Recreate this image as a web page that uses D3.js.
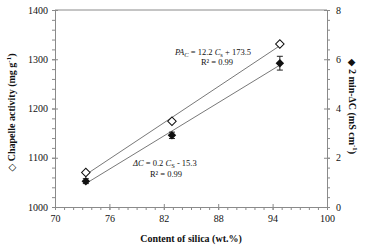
<!DOCTYPE html>
<html>
<head>
<meta charset="utf-8">
<script src="https://cdn.jsdelivr.net/npm/d3@7"></script>
<style>
  body { margin: 0; background: #fff; }
  svg text { font-family: "Liberation Serif", "DejaVu Serif", serif; fill: #111; }
</style>
</head>
<body>
<svg id="chart" width="366" height="246"></svg>
<script>
// data
const silica = [73.4, 82.9, 94.8];
const chapelle = [1070, 1174, 1331];
const deltaC = [1.05, 2.91, 5.84];
const deltaCErr = [0.1, 0.13, 0.28];
const xTicks = [70, 76, 82, 88, 94, 100];
const yLeftTicks = [1000, 1100, 1200, 1300, 1400];
const yRightTicks = [0, 2, 4, 6, 8];

const svg = d3.select("#chart");
const width = +svg.attr("width");
const height = +svg.attr("height");
const margin = { top: 10, right: 39, bottom: 39, left: 55 };
const w = width - margin.left - margin.right;
const h = height - margin.top - margin.bottom;
const axisColor = "#8a8a8a";
const fmt = d3.format("d");

const g = svg.append("g").attr("transform", `translate(${margin.left},${margin.top})`);

const x = d3.scaleLinear().domain([70, 100]).range([0, w]);
const yL = d3.scaleLinear().domain([1000, 1400]).range([h, 0]);
const yR = d3.scaleLinear().domain([0, 8]).range([h, 0]);

// top border
g.append("line").attr("x1", 0).attr("x2", w).attr("y1", 0).attr("y2", 0)
    .attr("stroke", axisColor).attr("stroke-width", 1);

// minor ticks
g.append("g").attr("transform", `translate(0,${h})`)
    .call(d3.axisBottom(x).tickValues(d3.range(70, 101, 1)).tickSize(3).tickFormat(""))
    .call(a => a.select(".domain").remove());
g.append("g")
    .call(d3.axisLeft(yL).tickValues(d3.range(1000, 1401, 20)).tickSize(3).tickFormat(""))
    .call(a => a.select(".domain").remove());
g.append("g").attr("transform", `translate(${w},0)`)
    .call(d3.axisRight(yR).tickValues(d3.range(0, 8.01, 0.4)).tickSize(3).tickFormat(""))
    .call(a => a.select(".domain").remove());

// major axes
const xAxis = g.append("g").attr("transform", `translate(0,${h})`)
    .call(d3.axisBottom(x).tickValues(xTicks).tickFormat(fmt).tickSize(3).tickSizeOuter(0).tickPadding(5));
xAxis.selectAll(".tick line").attr("y1", -3);

const leftAxis = g.append("g")
    .call(d3.axisLeft(yL).tickValues(yLeftTicks).tickFormat(fmt).tickSize(3).tickSizeOuter(0).tickPadding(4));
leftAxis.selectAll(".tick line").attr("x1", 3);

const rightAxis = g.append("g").attr("transform", `translate(${w},0)`)
    .call(d3.axisRight(yR).tickValues(yRightTicks).tickFormat(fmt).tickSize(3).tickSizeOuter(0).tickPadding(6));
rightAxis.selectAll(".tick line").attr("x1", -3);

g.selectAll(".domain, .tick line").attr("stroke", axisColor);
g.selectAll(".tick text").attr("font-size", 10).attr("font-family", "Liberation Serif").attr("fill", "#111");

// least squares trendlines over the data range
function fit(xs, ys) {
    const mx = d3.mean(xs), my = d3.mean(ys);
    const sxy = d3.sum(xs, (v, i) => (v - mx) * (ys[i] - my));
    const sxx = d3.sum(xs, v => (v - mx) * (v - mx));
    const b = sxy / sxx;
    return v => my + b * (v - mx);
}
const fitL = fit(silica, chapelle);
const fitR = fit(silica, deltaC);
const xr = d3.extent(silica);

g.append("line")
    .attr("x1", x(xr[0])).attr("y1", yL(fitL(xr[0])))
    .attr("x2", x(xr[1])).attr("y2", yL(fitL(xr[1])))
    .attr("stroke", "#555").attr("stroke-width", 0.8);
g.append("line")
    .attr("x1", x(xr[0])).attr("y1", yR(fitR(xr[0])))
    .attr("x2", x(xr[1])).attr("y2", yR(fitR(xr[1])))
    .attr("stroke", "#555").attr("stroke-width", 0.8);

// error bars on the conductivity points
const err = g.selectAll(".err").data(silica).enter().append("g").attr("class", "err");
err.append("line")
    .attr("x1", d => x(d)).attr("x2", d => x(d))
    .attr("y1", (d, i) => yR(deltaC[i] - deltaCErr[i]))
    .attr("y2", (d, i) => yR(deltaC[i] + deltaCErr[i]))
    .attr("stroke", "#222");
err.selectAll(".cap").data((d, i) => [[d, deltaC[i] - deltaCErr[i]], [d, deltaC[i] + deltaCErr[i]]])
    .enter().append("line")
    .attr("x1", d => x(d[0]) - 3).attr("x2", d => x(d[0]) + 3)
    .attr("y1", d => yR(d[1])).attr("y2", d => yR(d[1]))
    .attr("stroke", "#222");

// diamond markers
const diamond = d3.symbol().type(d3.symbolSquare).size(36);
g.selectAll(".open").data(silica).enter().append("path")
    .attr("d", diamond)
    .attr("transform", (d, i) => `translate(${x(d)},${yL(chapelle[i])}) rotate(45)`)
    .attr("fill", "#fff").attr("stroke", "#111").attr("stroke-width", 1);
g.selectAll(".filled").data(silica).enter().append("path")
    .attr("d", diamond)
    .attr("transform", (d, i) => `translate(${x(d)},${yR(deltaC[i])}) rotate(45)`)
    .attr("fill", "#111");

// equations
const eq1 = svg.append("text").attr("x", 175).attr("y", 55).attr("font-size", 8.5);
eq1.append("tspan").attr("font-style", "italic").text("PA");
eq1.append("tspan").attr("font-style", "italic").attr("font-size", 6.5).attr("dy", 2).text("C");
eq1.append("tspan").attr("dy", -2).text(" = 12.2 ");
eq1.append("tspan").attr("font-style", "italic").text("C");
eq1.append("tspan").attr("font-size", 6.5).attr("dy", 2).text("s");
eq1.append("tspan").attr("dy", -2).text(" + 173.5");
svg.append("text").attr("x", 217).attr("y", 65).attr("text-anchor", "middle")
    .attr("font-size", 8.5).text("R² = 0.99");

const eq2 = svg.append("text").attr("x", 133).attr("y", 166).attr("font-size", 8.5);
eq2.append("tspan").attr("font-style", "italic").text("ΔC");
eq2.append("tspan").text(" = 0.2 ");
eq2.append("tspan").attr("font-style", "italic").text("C");
eq2.append("tspan").attr("font-size", 6.5).attr("dy", 2).text("S");
eq2.append("tspan").attr("dy", -2).text(" - 15.3");
svg.append("text").attr("x", 166).attr("y", 177).attr("text-anchor", "middle")
    .attr("font-size", 8.5).text("R² = 0.99");

// axis titles
svg.append("text")
    .attr("x", margin.left + w / 2).attr("y", 242)
    .attr("text-anchor", "middle").attr("font-size", 10).attr("font-weight", "bold")
    .text("Content of silica (wt.%)");

const lt = svg.append("text")
    .attr("transform", `translate(15,${margin.top + h / 2 + 4}) rotate(-90)`)
    .attr("text-anchor", "middle").attr("font-size", 10).attr("font-weight", "bold");
lt.append("tspan").text("◇ Chapelle activity (mg g");
lt.append("tspan").attr("font-size", 7).attr("dy", -4).text("-1");
lt.append("tspan").attr("dy", 4).text(")");

const rt = svg.append("text")
    .attr("transform", `translate(349,${margin.top + h / 2 - 2}) rotate(90)`)
    .attr("text-anchor", "middle").attr("font-size", 10).attr("font-weight", "bold");
rt.append("tspan").text("◆ 2 min-ΔC (mS cm");
rt.append("tspan").attr("font-size", 7).attr("dy", -4).text("-1");
rt.append("tspan").attr("dy", 4).text(")");
</script>
</body>
</html>
